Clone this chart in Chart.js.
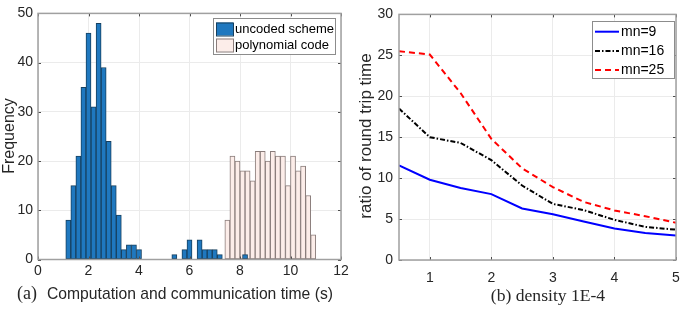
<!DOCTYPE html>
<html><head><meta charset="utf-8">
<script src="https://cdn.jsdelivr.net/npm/chart.js@4.4.0/dist/chart.umd.min.js"></script>
<style>
html,body{margin:0;padding:0;background:#fff;overflow:hidden;width:692px;height:319px}
#ca{position:absolute;left:0;top:0}
#cb{position:absolute;left:352px;top:0}
</style></head>
<body>
<canvas id="ca" width="352" height="319"></canvas>
<canvas id="cb" width="340" height="319"></canvas>
<script>
// ---------- data: (a) histogram ----------
const blueBinCenters = [1.2,1.4,1.6,1.8,2.0,2.2,2.4,2.6,2.8,3.0,3.2,3.4,3.6,3.8,4.0,4.2,4.4,4.6,4.8,5.0,5.2,5.4,5.6,5.8,6.0,6.2,6.4,6.6,6.8,7.0,7.2,7.4,7.6,7.8,8.0,8.2];
const blueCounts     = [8,15,21,35,46,31,48,39,24,15,9,2,3,3,2,0,0,0,0,0,0,1,0,2,4,0,4,2,2,2,1,0,0,0,0,1];
const pinkBinCenters = [7.5,7.7,7.9,8.1,8.3,8.5,8.7,8.9,9.1,9.3,9.5,9.7,9.9,10.1,10.3,10.5,10.7,10.9];
const pinkCounts     = [8,21,20,18,18,16,22,22,20,22,21,21,15,21,18,19,13,5];
const histXTicks = [0,2,4,6,8,10,12];
const histYTicks = [0,10,20,30,40,50];
const histLabels = ['uncoded scheme','polynomial code'];

// ---------- data: (b) ratio of round trip time ----------
const densities = [0.5,1,1.5,2,2.5,3,3.5,4,4.5,5];
const mn9  = [11.55,9.8,8.8,8.05,6.3,5.6,4.7,3.85,3.3,3.0];
const mn16 = [18.5,15.0,14.3,12.2,9.1,6.85,6.1,4.9,4.05,3.7];
const mn25 = [25.5,25.1,20.4,14.8,11.2,8.9,7.1,6.05,5.35,4.55];
const lineLabels = ['mn=9','mn=16','mn=25'];
const densityTicks = [1,2,3,4,5];
const ratioTicks = [0,5,10,15,20,25,30];

const SANS = '"Liberation Sans", Arial, sans-serif';
const SERIF = '"Liberation Serif", "Times New Roman", serif';
const TXT = '#262626';
const GRID = '#ebebeb';
const AXIS = '#a0a0a0';

function setTicks(list){ return s => { s.ticks = list.map(v => ({value:v})); }; }

const framePlugin = {
  id:'frame',
  afterDatasetsDraw(chart, args, o){
    const ctx = chart.ctx, a = chart.chartArea;
    const xs = chart.scales.x, ys = chart.scales.y;
    ctx.save();
    ctx.strokeStyle = '#4d4d4d'; ctx.lineWidth = 1;
    const L = 3;
    ctx.beginPath();
    xs.ticks.forEach(t => { const p = Math.round(xs.getPixelForValue(t.value))+0.5;
      ctx.moveTo(p,a.bottom); ctx.lineTo(p,a.bottom-L); ctx.moveTo(p,a.top); ctx.lineTo(p,a.top+L); });
    ys.ticks.forEach(t => { const p = Math.round(ys.getPixelForValue(t.value))+0.5;
      ctx.moveTo(a.left,p); ctx.lineTo(a.left+L,p); ctx.moveTo(a.right,p); ctx.lineTo(a.right-L,p); });
    ctx.stroke();
    ctx.strokeStyle = AXIS; ctx.lineWidth = 1.5;
    ctx.strokeRect(a.left, a.top, a.right-a.left, a.bottom-a.top);
    ctx.restore();
  }
};

const legendPlugin = {
  id:'legendBox',
  afterDraw(chart, args, o){
    if (!o || !o.w) return;
    const ctx = chart.ctx;
    ctx.save();
    ctx.fillStyle = '#fff'; ctx.fillRect(o.x, o.y, o.w, o.h);
    ctx.strokeStyle = '#8c8c8c'; ctx.lineWidth = 1;
    ctx.strokeRect(o.x+0.5, o.y+0.5, o.w, o.h);
    ctx.font = o.font; ctx.textBaseline = 'middle'; ctx.textAlign = 'left';
    chart.data.datasets.forEach((ds, i) => {
      const cy = o.y + o.firstY + i*o.step;
      if (o.kind === 'rect') {
        ctx.fillStyle = ds.backgroundColor;
        ctx.fillRect(o.sx, cy-6.5, o.sw, 13);
        ctx.strokeStyle = ds.borderColor; ctx.lineWidth = 1;
        ctx.strokeRect(o.sx+0.5, cy-6.5+0.5, o.sw, 13);
      } else {
        ctx.strokeStyle = ds.borderColor; ctx.lineWidth = ds.borderWidth;
        ctx.setLineDash(ds.borderDash || []);
        ctx.beginPath(); ctx.moveTo(o.sx, cy); ctx.lineTo(o.sx+o.sw, cy); ctx.stroke();
        ctx.setLineDash([]);
      }
      ctx.fillStyle = '#000';
      ctx.fillText(ds.label, o.tx, cy);
    });
    ctx.restore();
  }
};

const titlesPlugin = {
  id:'titles',
  afterDraw(chart, args, o){
    if (!o || !o.items) return;
    const ctx = chart.ctx;
    o.items.forEach(it => {
      ctx.save();
      ctx.font = it.font; ctx.fillStyle = TXT;
      ctx.textAlign = it.align || 'left';
      ctx.textBaseline = it.baseline || 'alphabetic';
      ctx.translate(it.x, it.y);
      if (it.rot) ctx.rotate(it.rot);
      ctx.fillText(it.text, 0, 0);
      ctx.restore();
    });
  }
};

// ---------- chart (a) ----------
new Chart(document.getElementById('ca'), {
  type:'bar',
  data:{ datasets:[
    { label: histLabels[0], data: blueBinCenters.map((x,i)=>({x, y: blueCounts[i]})),
      backgroundColor:'#1f78bf', borderColor:'#17405f', borderWidth:1, borderSkipped:false,
      barPercentage:1, categoryPercentage:1, grouped:false, xAxisID:'x' },
    { label: histLabels[1], data: pinkBinCenters.map((x,i)=>({x, y: pinkCounts[i]})),
      backgroundColor:'#fcede9', borderColor:'#8a7d7b', borderWidth:1, borderSkipped:false,
      barPercentage:1, categoryPercentage:1, grouped:false, xAxisID:'x2' }
  ]},
  options:{
    responsive:false, animation:false, devicePixelRatio:1,
    layout:{ padding:{ left:0, right:11, top:12, bottom:0 } },
    plugins:{
      legend:{display:false}, tooltip:{enabled:false},
      legendBox:{ kind:'rect', x:213, y:18, w:122, h:36, firstY:11, step:16, sx:216, sw:17, tx:235,
                  font:'13px '+SANS },
      titles:{ items:[
        { text:'Frequency', x:10, y:136, rot:-Math.PI/2, align:'center', baseline:'middle', font:'16px '+SANS },
        { text:'(a)', x:17, y:299, font:'18px '+SERIF },
        { text:'Computation and communication time (s)', x:47, y:299, font:'15.7px '+SANS }
      ]}
    },
    scales:{
      x:{ type:'linear', min:0, max:12, offset:false, afterBuildTicks:setTicks(histXTicks),
          grid:{ color:GRID, drawTicks:false, offset:false }, border:{display:false},
          ticks:{ color:TXT, font:{family:SANS, size:14}, padding:3, maxRotation:0 },
          afterFit:s=>{ s.height = 59.5; } },
      x2:{ type:'linear', min:0, max:12, offset:false, display:false, grid:{offset:false} },
      y:{ min:0, max:50, afterBuildTicks:setTicks(histYTicks),
          grid:{ color:GRID, drawTicks:false }, border:{display:false},
          ticks:{ color:TXT, font:{family:SANS, size:14}, padding:5 },
          afterFit:s=>{ s.width = 38; } }
    }
  },
  plugins:[framePlugin, legendPlugin, titlesPlugin]
});

// ---------- chart (b) ----------
new Chart(document.getElementById('cb'), {
  type:'line',
  data:{ datasets:[
    { label: lineLabels[0], data: densities.map((x,i)=>({x, y: mn9[i]})),
      borderColor:'#0000ff', borderWidth:2, pointRadius:0, fill:false, tension:0 },
    { label: lineLabels[1], data: densities.map((x,i)=>({x, y: mn16[i]})),
      borderColor:'#000000', borderWidth:2, borderDash:[5,2,1.5,2], pointRadius:0, fill:false, tension:0 },
    { label: lineLabels[2], data: densities.map((x,i)=>({x, y: mn25[i]})),
      borderColor:'#ff0000', borderWidth:2, borderDash:[6,4], pointRadius:0, fill:false, tension:0 }
  ]},
  options:{
    responsive:false, animation:false, devicePixelRatio:1,
    layout:{ padding:{ left:0, right:16, top:12, bottom:0 } },
    plugins:{
      legend:{display:false}, tooltip:{enabled:false},
      legendBox:{ kind:'line', x:240, y:21, w:82, h:57, firstY:10.7, step:19.2, sx:243, sw:24, tx:269,
                  font:'14px '+SANS },
      titles:{ items:[
        { text:'ratio of round trip time', x:14, y:136, rot:-Math.PI/2, align:'center', baseline:'middle', font:'17px '+SANS },
        { text:'(b) density 1E-4', x:196, y:300.5, align:'center', font:'17.6px '+SERIF }
      ]}
    },
    scales:{
      x:{ type:'linear', min:0.5, max:5, afterBuildTicks:setTicks(densityTicks),
          grid:{ color:GRID, drawTicks:false }, border:{display:false},
          ticks:{ color:TXT, font:{family:SANS, size:14}, padding:10, maxRotation:0 },
          afterFit:s=>{ s.height = 59; } },
      y:{ min:0, max:30, afterBuildTicks:setTicks(ratioTicks),
          grid:{ color:GRID, drawTicks:false }, border:{display:false},
          ticks:{ color:TXT, font:{family:SANS, size:14}, padding:6 },
          afterFit:s=>{ s.width = 47; } }
    }
  },
  plugins:[framePlugin, legendPlugin, titlesPlugin]
});
</script>
</body></html>
